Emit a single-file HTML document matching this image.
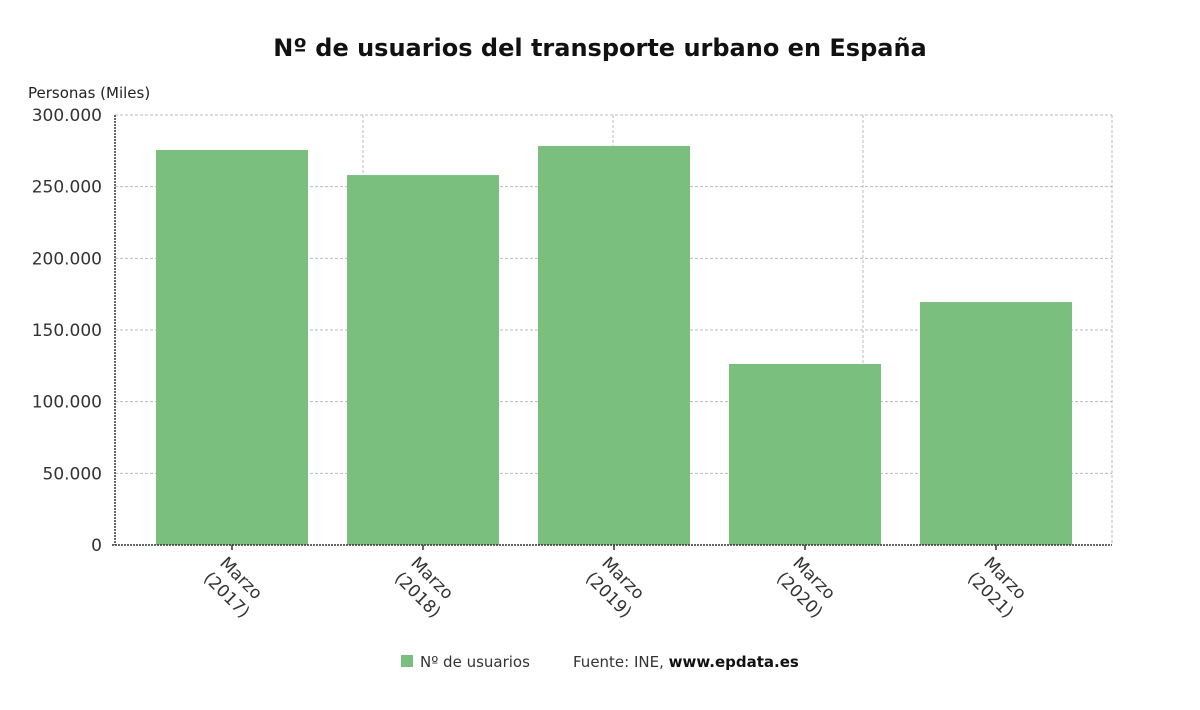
<!DOCTYPE html>
<html><head><meta charset="utf-8"><style>
body{margin:0;background:#fff;font-family:"Liberation Sans","DejaVu Sans",sans-serif;}
svg text{font-family:"DejaVu Sans","Liberation Sans",sans-serif;}
</style></head><body>
<svg id="chart" width="1200" height="705" xmlns="http://www.w3.org/2000/svg">
<text x="600" y="56" text-anchor="middle" font-size="24" font-weight="bold" fill="#111">Nº de usuarios del transporte urbano en España</text>
<text x="28" y="98" font-size="15" fill="#222">Personas (Miles)</text>
<g id="grid"></g><g id="bars"></g><g id="axes"></g>
<g>
<rect x="401" y="655" width="12" height="12" fill="#7bbf7e"/>
<text x="420" y="667" font-size="15" fill="#333">Nº de usuarios</text>
<text x="573" y="667" font-size="15" fill="#333">Fuente: INE, <tspan font-weight="bold" fill="#111">www.epdata.es</tspan></text>
</g>
</svg>
<script>
const categories=["Marzo (2017)","Marzo (2018)","Marzo (2019)","Marzo (2020)","Marzo (2021)"];
const values=[275600,258100,278400,126300,169500];
const yTicks=[0,50000,100000,150000,200000,250000,300000];
const yTickLabels=["0","50.000","100.000","150.000","200.000","250.000","300.000"];
const NS="http://www.w3.org/2000/svg";
const X0=115,X1=1112,Y0=545,Y1=115,YMAX=300000,STEP=191,FIRST=232,BW=152;
const y=v=>Y0-(v/YMAX)*(Y0-Y1);
const xc=i=>FIRST+i*STEP;
function mk(t,a,p){const e=document.createElementNS(NS,t);for(const k in a)e.setAttribute(k,a[k]);p.appendChild(e);return e;}
const grid=document.getElementById('grid'),bars=document.getElementById('bars'),axes=document.getElementById('axes');
yTicks.forEach((t,i)=>{
 if(t>0){const l=mk('line',{x1:X0,x2:X1,y1:y(t),y2:y(t),stroke:'#bbb','stroke-dasharray':'3,2'},grid);
 
 }
 const tx=mk('text',{x:102,y:y(t)+6,'text-anchor':'end','font-size':17,fill:'#333'},axes);
 tx.textContent=yTickLabels[i];
 
 
});
[363,613,863,1112].forEach(vx=>{const l=mk('line',{x1:vx,x2:vx,y1:Y1,y2:Y0,stroke:'#bbb','stroke-dasharray':'3,2'},grid);
 
 });
const tl=mk('line',{x1:X0,x2:X1,y1:Y1,y2:Y1,stroke:'#bbb','stroke-dasharray':'3,2'},grid);


values.forEach((v,i)=>{
 const r=mk('rect',{x:xc(i)-BW/2,y:y(v),width:BW,height:Y0-y(v),fill:'#7bbf7e'},bars);
 
 
 const tk=mk('line',{x1:xc(i),x2:xc(i),y1:Y0,y2:Y0+5,stroke:'#333','stroke-width':1.5},axes);
 
 
 const parts=categories[i].split(' ');
 const g=mk('g',{transform:`translate(${xc(i)-13},${Y0+19}) rotate(45)`},axes);
 
 
 const t1=mk('text',{x:0,y:0,'font-size':17,fill:'#333'},g);t1.textContent=parts[0];
 const t2=mk('text',{x:-1,y:22,'font-size':17,fill:'#333'},g);t2.textContent=parts[1];
});
const xa=mk('line',{x1:X0-3,x2:X1,y1:Y0,y2:Y0,stroke:'#333','stroke-width':1.5,'stroke-dasharray':'2,1'},axes);


const ya=mk('line',{x1:X0,x2:X0,y1:Y1,y2:Y0,stroke:'#333','stroke-width':1.5,'stroke-dasharray':'2,1'},axes);


</script>
</body></html>
